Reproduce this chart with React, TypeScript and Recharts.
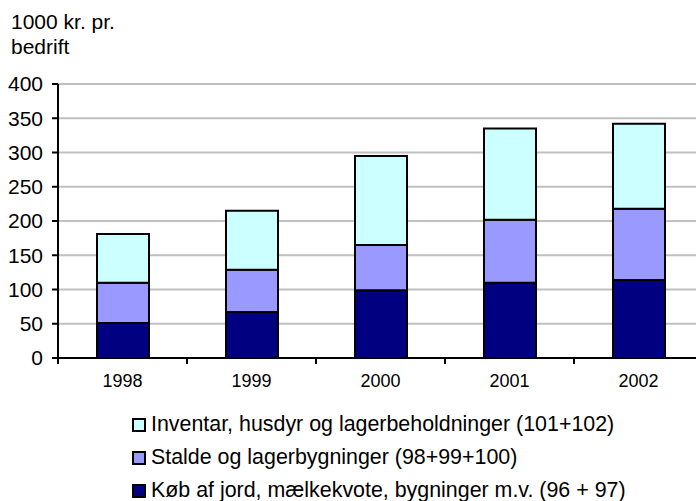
import type { JSX } from "react";
import { Bar, BarChart, CartesianGrid, Legend, XAxis, YAxis } from "recharts";

const years = ["1998", "1999", "2000", "2001", "2002"];
const kob = [51, 67, 99, 110, 114];
const stalde = [59, 62, 66, 92, 104];
const inventar = [71, 86, 130, 133, 124];
const yTicks = [0, 50, 100, 150, 200, 250, 300, 350, 400];

const series = [
  { key: "kob", name: "Køb af jord, mælkekvote, bygninger m.v. (96 + 97)", color: "#000080" },
  { key: "stalde", name: "Stalde og lagerbygninger (98+99+100)", color: "#9999FF" },
  { key: "inventar", name: "Inventar, husdyr og lagerbeholdninger (101+102)", color: "#CCFFFF" },
];

const data = years.map((year, i) => ({
  year,
  kob: kob[i],
  stalde: stalde[i],
  inventar: inventar[i],
}));

const font = "'Liberation Sans', Arial, sans-serif";
const xTickSize = 6;
const xTickMargin = 10;

// year label plus the Excel-style tick marks between categories
function YearTick(props: any): JSX.Element {
  const { x, y, payload, index } = props;
  const half = payload?.offset ?? 0;
  const top = y - xTickSize - xTickMargin;
  return (
    <g>
      <line x1={x - half} x2={x - half} y1={top} y2={top + xTickSize} stroke="#000" strokeWidth={2} />
      {index === years.length - 1 && (
        <line x1={x + half} x2={x + half} y1={top} y2={top + xTickSize} stroke="#000" strokeWidth={2} />
      )}
      <text x={x} y={y} dy="0.71em" textAnchor="middle" fontSize={18} fill="#000" fontFamily={font}>
        {payload.value}
      </text>
    </g>
  );
}

function LegendBox(): JSX.Element {
  return (
    <div style={{ fontFamily: font, fontSize: 21.4, color: "#000" }}>
      {[...series].reverse().map((s) => (
        <div
          key={s.key}
          style={{ display: "flex", alignItems: "center", height: 33, lineHeight: "33px" }}
        >
          <span
            style={{
              display: "inline-block",
              width: 14,
              height: 14,
              boxSizing: "border-box",
              border: "2px solid #000",
              background: s.color,
              marginRight: 5,
            }}
          />
          <span style={{ whiteSpace: "nowrap" }}>{s.name}</span>
        </div>
      ))}
    </div>
  );
}

export default function App(): JSX.Element {
  return (
    <div
      style={{
        position: "absolute",
        left: 0,
        top: 0,
        width: 696,
        height: 501,
        overflow: "hidden",
        background: "#fff",
        fontFamily: font,
      }}
    >
      <div
        style={{
          position: "absolute",
          left: 11,
          top: 9,
          fontSize: 21,
          lineHeight: "25px",
          color: "#000",
        }}
      >
        1000 kr. pr.
        <br />
        bedrift
      </div>
      <BarChart
        width={710}
        height={501}
        data={data}
        margin={{ top: 84, right: 7, left: 8, bottom: 113 }}
      >
        <CartesianGrid vertical={false} stroke="#C0C0C0" strokeWidth={2} />
        <XAxis
          dataKey="year"
          height={30}
          axisLine={{ stroke: "#000", strokeWidth: 2 }}
          tickLine={false}
          tickSize={xTickSize}
          tickMargin={xTickMargin}
          tick={<YearTick />}
        />
        <YAxis
          domain={[0, 400]}
          ticks={yTicks}
          width={50}
          axisLine={{ stroke: "#000", strokeWidth: 2 }}
          tickLine={{ stroke: "#000", strokeWidth: 2 }}
          tickSize={6}
          tickMargin={9}
          tick={{ fontSize: 21, fill: "#000", fontFamily: font }}
        />
        <Legend
          layout="vertical"
          verticalAlign="middle"
          align="center"
          content={<LegendBox />}
          wrapperStyle={{ left: 132, top: 408, width: 560 }}
        />
        {series.map((s) => (
          <Bar
            key={s.key}
            dataKey={s.key}
            name={s.name}
            stackId="a"
            fill={s.color}
            stroke="#000"
            strokeWidth={2}
            barSize={52}
            isAnimationActive={false}
          />
        ))}
      </BarChart>
    </div>
  );
}
